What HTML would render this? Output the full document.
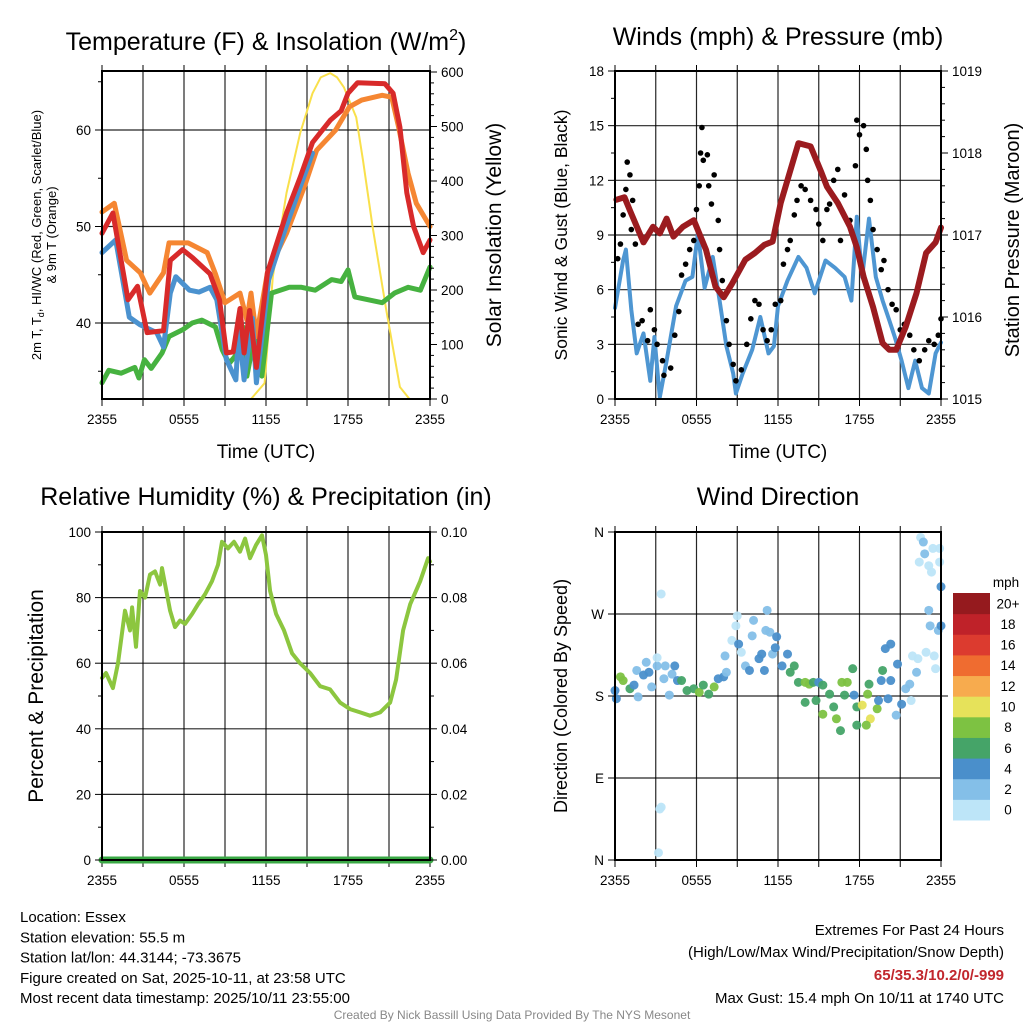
<!DOCTYPE html>
<html><head><meta charset="utf-8"><style>
body{margin:0;background:#fff;}
svg text{font-family:"Liberation Sans",sans-serif;fill:#000;}
</style></head><body>
<svg id="s" width="1024" height="1024" viewBox="0 0 1024 1024" xmlns="http://www.w3.org/2000/svg"></svg>
<script>
// ---------- DATA ----------
const tickHours=[0,6,12,18,24];
const tickLabels=['2355','0555','1155','1755','2355'];
// Temperature panel
const tRedH=[0,0.8,1.9,2.6,3.3,4.5,5.0,5.9,6.6,7.9,8.6,9.1,9.6,10.1,10.4,10.8,11.3,12.1,13.5,14.5,15.4,16.7,17.5,18.0,18.7,20.7,21.3,21.8,22.3,22.8,23.5,24];
const tRedV=[49.3,51.4,42.4,43.8,39,39.2,46.5,47.6,46.8,45.1,42.4,36.9,37,41.5,36.9,41.3,35.4,45.2,51.4,55.1,58.7,61.0,62,63.8,64.9,64.8,63.8,60.3,53.5,50,47.3,48.6];
const tOrgH=[0,0.9,1.8,2.8,3.5,4.5,4.9,6.3,7.7,8.3,9.0,10.1,10.6,10.9,11.3,12.1,13.5,14.8,15.7,17.1,18.1,19.0,20.5,21.2,21.7,22.4,23.0,24];
const tOrgV=[51.5,52.4,46.5,45.2,43.1,45.2,48.3,48.3,47.3,45.1,42.1,43.1,40.3,43.1,38.6,45.2,49.3,54.1,57.9,60,62.4,63.1,63.6,63.4,60.3,55.5,52.4,50];
const tBluH=[0,1.0,2.0,2.8,4.0,4.5,5.0,5.4,6.4,7.1,7.9,8.4,9.1,9.8,10.0,10.4,11.0,11.3,12.2,13.3,14.5,15.4];
const tBluV=[47.3,48.6,40.6,39.8,39,37.5,43.1,44.8,43.4,43.2,43.7,42.4,36.2,34.1,39.5,34.1,40.5,33.8,44.5,49.3,54.1,57.6];
const tGrnH=[0,0.5,1.4,2.4,2.7,3.1,3.6,4.4,4.9,5.9,6.6,7.3,8.3,8.8,9.3,10.0,10.3,10.6,11.2,11.7,12.4,13.7,14.6,15.6,16.8,17.5,18.0,18.5,19.5,20.5,21.4,22.4,23.3,24];
const tGrnV=[33.8,35.1,34.8,35.4,34.3,36.2,35.3,36.9,38.6,39.3,40,40.3,39.6,37.2,35.8,37,39.6,34.5,39,34.5,43.1,43.7,43.7,43.4,44.5,44.3,45.5,42.7,42.4,42.1,43.1,43.7,43.4,45.8];
const solH=[0,10.9,11.9,12.5,13.5,14.5,15.4,16.0,16.7,17.2,17.7,18.6,19.1,19.8,20.8,21.8,22.5,24];
const solV=[0,0,29,224,378,488,561,590,598,590,572,517,438,316,163,22,0,0];
// Wind panel
const pH=[0.1,0.7,1.1,2.1,2.8,3.3,3.8,4.3,5.0,5.8,6.7,7.4,8.0,8.6,9.6,10.3,11.0,11.6,12.2,13.5,14.4,15.2,15.6,16.4,17.3,17.8,18.3,19.0,19.7,20.2,20.7,21.4,22.2,22.9,23.6,24];
const pV=[1017.43,1017.46,1017.3,1016.91,1017.1,1017.02,1017.2,1016.98,1017.1,1017.18,1016.82,1016.37,1016.24,1016.4,1016.7,1016.78,1016.88,1016.92,1017.39,1018.12,1018.08,1017.76,1017.59,1017.39,1017.1,1016.85,1016.49,1016.12,1015.68,1015.6,1015.6,1015.88,1016.29,1016.78,1016.91,1017.09];
const wH=[0,0.6,0.8,1.2,1.6,2.1,2.6,2.9,3.3,3.8,4.5,5.2,5.7,6.1,6.6,7.2,7.7,8.2,8.7,8.9,9.4,10.1,10.7,11.3,11.7,12.0,12.7,13.5,14.1,14.7,15.5,16.2,16.9,17.4,17.8,18.2,18.7,19.2,19.7,20.2,20.6,21.1,21.6,22.1,22.6,23.1,23.6,24];
const wV=[5.0,7.6,8.2,4.9,2.5,3.6,1.0,3.4,0.1,2.1,5.1,6.5,6.7,9.1,6.1,7.8,5.4,2.9,1.4,0.3,1.4,2.7,4.5,2.5,2.9,5.1,6.5,7.8,7.2,5.8,7.6,7.2,6.7,5.4,10.0,6.7,9.9,6.7,5.4,4.3,3.4,2.1,0.6,2.1,0.6,0.3,2.5,3.1];
const gH=[0.2,0.4,0.6,0.8,0.9,1.1,1.3,1.2,1.5,1.7,2.0,2.4,2.6,2.9,3.1,3.5,3.6,4.1,4.4,4.7,4.9,5.2,5.5,5.8,6.0,6.2,6.3,6.4,6.5,6.8,6.9,7.1,7.3,7.6,7.7,7.9,8.2,8.4,8.7,8.9,9.3,9.7,10.0,10.3,10.6,10.9,11.2,11.5,11.8,12.2,12.4,12.7,12.9,13.2,13.4,13.7,14.0,14.4,14.8,15.0,15.3,15.6,15.8,16.1,16.4,16.6,16.9,17.3,17.7,17.8,18.0,18.3,18.5,18.6,18.8,19.0,19.3,19.6,19.8,20.1,20.4,20.7,21.0,21.3,21.7,22.0,22.4,22.8,23.1,23.5,23.8,24.0];
const gV=[7.7,8.5,10.1,11.5,13,12.3,10.9,9.3,8.5,4.1,4.3,3.2,4.9,3.8,3.0,2.1,1.3,1.7,3.5,4.8,6.8,7.4,8.2,8.7,10.4,11.7,13.5,14.9,13.1,13.4,11.7,10.7,12.3,9.8,8.2,6.5,4.3,3.0,1.9,1.0,1.6,3.0,4.4,5.4,5.2,3.8,3.2,3.8,5.2,5.4,7.4,8.2,8.7,10.1,10.9,11.7,11.5,10.9,10.4,9.6,8.7,10.4,10.7,12.0,12.6,8.7,11.2,9.8,12.8,15.3,14.5,15.0,13.7,12.0,10.9,9.3,8.2,7.1,7.6,6.0,5.2,4.9,3.8,4.1,3.5,2.7,2.1,2.7,3.2,3.0,3.5,4.4];
// RH panel
const rhH=[0,0.29,0.8,1.17,1.68,2.05,2.2,2.49,2.78,3.15,3.51,3.88,4.25,4.39,4.98,5.34,5.71,6.08,6.59,7.03,7.54,8.05,8.49,8.78,9.22,9.66,10.1,10.47,10.83,11.27,11.71,12.0,12.3,12.74,13.32,13.91,14.49,15.23,15.96,16.69,17.42,18.15,18.89,19.62,20.35,21.08,21.52,22.03,22.55,23.28,23.86,24];
const rhV=[55.5,57,52.4,60,76,70,77,65,82,80,87,88,84,89,76,71,73,72,75,78,81,85,90,97,95,97,94,98,92,96,99,93,82,75,70,63,60,57,53,52,48,46,45,44,45,48,55,70,78,85,92,91];
const prH=[0,24];
const prV=[0,0];
// Wind direction panel
const dH=[0,0.1,0.4,0.6,1.1,1.4,1.7,1.6,2.1,2.3,2.5,2.7,3.1,3.1,3.4,3.6,3.7,4.0,4.2,4.4,4.6,4.9,5.3,5.8,6.2,6.5,6.9,7.3,7.6,8.0,8.2,8.1,8.6,8.9,9.0,9.1,9.3,9.6,9.9,10.2,10.1,10.6,10.8,11.0,11.2,11.1,11.4,11.6,11.8,11.9,12.3,12.7,12.9,13.2,13.5,14.0,14.3,14.6,15.0,15.3,14.0,14.8,15.8,16.1,16.3,15.3,16.6,16.7,17.1,17.5,16.9,17.6,17.8,18.2,18.6,18.7,18.8,19.3,18.5,17.8,19.4,19.7,19.6,19.9,20.3,20.1,20.3,20.7,20.8,21.1,21.4,21.7,21.8,21.9,22.2,22.3,22.9,23.5,23.6,23.1,23.2,23.8,24.0,24.0,22.5,22.7,22.8,22.4,23.1,23.3,23.4,23.9,23.9,3.3,3.2,3.4];
const dDir=[186,177,201,197,188,192,179,208,203,217,206,190,213,222,292,199,213,181,204,213,197,197,186,188,184,192,182,190,199,201,206,224,241,257,268,237,228,213,208,263,246,221,226,208,274,252,250,226,233,245,213,226,206,213,195,195,193,195,195,192,173,175,182,168,155,160,142,195,195,210,181,181,168,170,182,193,155,166,148,148,175,208,197,232,237,177,197,159,215,171,188,193,175,224,206,221,228,224,210,274,257,252,257,300,354,349,336,327,323,316,342,342,327,56,8,58];
const dSpd=[4,4,8,8,6,4,2,2,4,2,4,2,2,1,0,2,2,2,2,4,4,6,6,6,8,6,6,8,4,4,2,2,1,1,1,4,1,2,4,2,2,4,4,4,2,2,2,2,4,4,4,4,6,6,6,8,8,6,4,6,6,6,6,6,8,8,6,8,8,6,6,4,6,10,8,6,10,8,8,6,4,6,4,4,4,4,4,2,4,4,2,2,1,1,2,1,1,1,1,2,2,2,4,4,1,2,2,1,1,1,1,1,1,1,1,0];
const cbLabels=['0','2','4','6','8','10','12','14','16','18','20+'];
const cbColors=['#bde5f8','#84bfe8','#4a8fcb','#45a468','#7dc242','#e6e25a','#f7ab4e','#ef6c30','#dc3b2f','#bf2229','#951a1e'];

// ---------- HELPERS ----------
const NS='http://www.w3.org/2000/svg';
const S=document.getElementById('s');
function el(tag,attrs,parent){const e=document.createElementNS(NS,tag);for(const k in attrs)e.setAttribute(k,attrs[k]);(parent||S).appendChild(e);return e;}
function txt(x,y,s,size,anchor,parent,extra){const t=el('text',Object.assign({x:x,y:y,'font-size':size,'text-anchor':anchor||'middle'},extra||{}),parent);t.textContent=s;return t;}
function lin(d0,d1,r0,r1){return v=>r0+(v-d0)/(d1-d0)*(r1-r0);}

function panel(name,x0,x1,y0,y1){
  const g=el('g',{});
  
  
  const X=lin(0,24,x0,x1);
  for(let h=0;h<=24;h+=3){
    el('line',{x1:X(h),x2:X(h),y1:y0,y2:y1,stroke:'#000','stroke-width':1.2,opacity:0.85},g);
    el('line',{x1:X(h),x2:X(h),y1:y0-6,y2:y0,stroke:'#000','stroke-width':1},g);
    el('line',{x1:X(h),x2:X(h),y1:y1,y2:y1+7,stroke:'#000','stroke-width':1},g);
  }
  const xt=el('g',{},g);
  
  
  tickHours.forEach((h,i)=>txt(X(h),y1+25,tickLabels[i],13.5,'middle',xt));
  return {g,X};
}
function yTicks(g,vals,labels,Y,x,side,minor){
  const dir=side==='left'?-1:1;
  vals.forEach((v,i)=>{
    el('line',{x1:x,x2:x+dir*7,y1:Y(v),y2:Y(v),stroke:'#000','stroke-width':1},g);
    if(labels[i]!==null)txt(x+dir*11,Y(v)+5,labels[i],13.5,side==='left'?'end':'start',g);
  });
  (minor||[]).forEach(v=>el('line',{x1:x,x2:x+dir*4,y1:Y(v),y2:Y(v),stroke:'#000','stroke-width':1},g));
}
function hgrid(g,vals,Y,x0,x1){vals.forEach(v=>el('line',{x1:x0,x2:x1,y1:Y(v),y2:Y(v),stroke:'#000','stroke-width':1.2,opacity:0.85},g));}
function path(g,hs,vs,X,Y,color,w){
  let d='';hs.forEach((h,i)=>{d+=(i?'L':'M')+X(h).toFixed(1)+','+Y(vs[i]).toFixed(1);});
  return el('path',{d:d,fill:'none',stroke:color,'stroke-width':w,'stroke-linejoin':'round','stroke-linecap':'round'},g);
}
function box(g,x0,x1,y0,y1){el('rect',{x:x0,y:y0,width:x1-x0,height:y1-y0,fill:'none',stroke:'#000','stroke-width':2},g);}
function range(a,b,s){const r=[];for(let v=a;v<=b+1e-9;v+=s)r.push(+v.toFixed(4));return r;}
function vtext(x,y,s,size,name){const t=el('text',{x:0,y:0,'font-size':size,'text-anchor':'middle',transform:'translate('+x+','+y+') rotate(-90)'});t.textContent=s;return t;}

// ---------- PANEL 1: Temperature ----------
(function(){
  const x0=102,x1=430,y0=71,y1=399;
  const p=panel('temperature-panel',x0,x1,y0,y1);const g=p.g,X=p.X;
  const Y=lin(40,60,323,130);const YS=lin(0,600,399,72);
  hgrid(g,[40,50,60],Y,x0,x1);
  const l1=path(g,solH,solV,X,YS,'#f9e04b',2);
  const l2=path(g,tGrnH,tGrnV,X,Y,'#46b240',5);
  const l3=path(g,tOrgH,tOrgV,X,Y,'#f58632',5);
  const l4=path(g,tBluH,tBluV,X,Y,'#4b92cf',5);
  const l5=path(g,tRedH,tRedV,X,Y,'#d82a2a',5);
  box(g,x0,x1,y0,y1);
  yTicks(g,[40,50,60],['40','50','60'],Y,x0,'left',[35,45,55,65]);
  yTicks(g,range(0,600,100),range(0,600,100).map(String),YS,x1,'right',range(20,580,20));
  const t=txt(266,50,'Temperature (F) & Insolation (W/m',25,'middle');
  const sup=el('tspan',{dy:-10,'font-size':16},t);sup.textContent='2';const cl=el('tspan',{dy:10},t);cl.textContent=')';
  const xl=txt(266,458,'Time (UTC)',19);
  const yl=el('text',{x:0,y:0,'font-size':13,'text-anchor':'middle',transform:'translate(41,235) rotate(-90)'});
  
  yl.innerHTML='2m T, T<tspan font-size="9" dy="3">d</tspan><tspan dy="-3">, HI/WC (Red, Green, Scarlet/Blue)</tspan>';
  const yl2=el('text',{x:0,y:0,'font-size':13,'text-anchor':'middle',transform:'translate(56,235) rotate(-90)'});yl2.textContent='& 9m T (Orange)';
  vtext(501,235,'Solar Insolation (Yellow)',21,'insolation-y-title');
})();

// ---------- PANEL 2: Winds ----------
(function(){
  const x0=615,x1=941,y0=71,y1=399;
  const p=panel('winds-panel',x0,x1,y0,y1);const g=p.g,X=p.X;
  const Y=lin(0,18,399,71);const YP=lin(1015,1019,399,71);
  hgrid(g,range(0,18,3),Y,x0,x1);
  const lw=path(g,wH,wV,X,Y,'#4e96d2',4);
  const dots=el('g',{},g);
  gH.forEach((h,i)=>el('circle',{cx:X(h),cy:Y(gV[i]),r:2.8,fill:'#000'},dots));
  const lp=path(g,pH,pV,X,YP,'#9b1b1f',6);
  box(g,x0,x1,y0,y1);
  yTicks(g,range(0,18,3),range(0,18,3).map(String),Y,x0,'left',range(1.5,16.5,3));
  yTicks(g,range(1015,1019,1),range(1015,1019,1).map(String),YP,x1,'right',range(1015.2,1018.8,0.2));
  const t=txt(778,45,'Winds (mph) & Pressure (mb)',25);
  const xl=txt(778,458,'Time (UTC)',19);
  vtext(567,235,'Sonic Wind & Gust (Blue, Black)',17.5,'wind-y-title');
  vtext(1019,240,'Station Pressure (Maroon)',20,'pressure-y-title');
})();

// ---------- PANEL 3: RH ----------
(function(){
  const x0=102,x1=430,y0=532,y1=860;
  const p=panel('humidity-panel',x0,x1,y0,y1);const g=p.g,X=p.X;
  const Y=lin(0,100,860,532);const YR=lin(0,0.1,860,532);
  hgrid(g,range(0,100,20),Y,x0,x1);
  const l=path(g,rhH,rhV,X,Y,'#8cc63f',4);
  const pr=path(g,prH,prV,X,YR,'#3aa845',7);
  box(g,x0,x1,y0,y1);
  yTicks(g,range(0,100,20),range(0,100,20).map(String),Y,x0,'left',range(10,90,20));
  yTicks(g,range(0,0.1,0.02),['0.00','0.02','0.04','0.06','0.08','0.10'],YR,x1,'right',range(0.01,0.09,0.02));
  const t=txt(266,505,'Relative Humidity (%) & Precipitation (in)',25);
  vtext(43,696,'Percent & Precipitation',21,'humidity-y-title');
})();

// ---------- PANEL 4: Wind direction ----------
(function(){
  const x0=615,x1=941,y0=532,y1=860;
  const p=panel('wind-direction-panel',x0,x1,y0,y1);const g=p.g,X=p.X;
  const Y=lin(0,360,860,532);
  hgrid(g,[0,90,180,270,360],Y,x0,x1);
  const pts=el('g',{},g);
  dH.forEach((h,i)=>el('circle',{cx:X(h),cy:Y(dDir[i]),r:4.5,fill:cbColors[Math.min(10,Math.floor(dSpd[i]/2))],opacity:0.95},pts));
  box(g,x0,x1,y0,y1);
  yTicks(g,[0,90,180,270,360],['N','E','S','W','N'],Y,x0,'left',[]);
  el('line',{x1:x1,x2:x1+7,y1:Y(180),y2:Y(180),stroke:'#000'},g);
  const t=txt(778,505,'Wind Direction',25);
  vtext(567,696,'Direction (Colored By Speed)',18,'direction-y-title');
  const cb=el('g',{});
  const bh=(820-593)/11;
  cbColors.forEach((c,i)=>{
    const y=820-(i+1)*bh;
    el('rect',{x:953,y:y,width:37,height:bh+0.5,fill:c},cb);
    txt(1008,y+bh/2+5,cbLabels[i],13.5,'middle',cb);
  });
  txt(1006,587,'mph',13.5,'middle',cb);
})();

// ---------- TEXT ----------
const info=['Location: Essex','Station elevation: 55.5 m','Station lat/lon: 44.3144; -73.3675','Figure created on Sat, 2025-10-11, at 23:58 UTC','Most recent data timestamp: 2025/10/11 23:55:00'];
const ig=el('g',{});
info.forEach((s,i)=>txt(20,922+i*20.3,s,15,'start',ig));
const eg=el('g',{});
txt(1004,935,'Extremes For Past 24 Hours',15,'end',eg);
txt(1004,957,'(High/Low/Max Wind/Precipitation/Snow Depth)',15,'end',eg);
const rv=txt(1004,980,'65/35.3/10.2/0/-999',15,'end',eg,{'font-weight':'bold'});rv.style.fill='#c1272d';
txt(1004,1003,'Max Gust: 15.4 mph On 10/11 at 1740 UTC',15,'end',eg);
const ft=txt(512,1019,'Created By Nick Bassill Using Data Provided By The NYS Mesonet',12,'middle');ft.style.fill='#888';

</script>
</body></html>
